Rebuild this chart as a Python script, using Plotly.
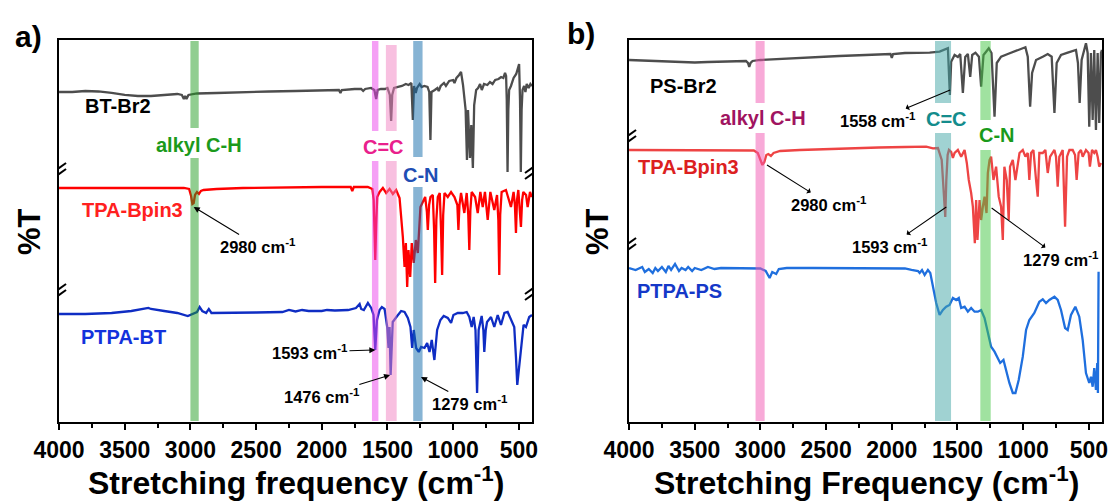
import plotly.graph_objects as go

# ---------------- Panel a: BT-Br2 / TPA-Bpin3 / PTPA-BT ----------------
# wavenumber (cm-1) and offset transmittance (a.u.)
wn_bt_br2 = [4000, 3900, 3800, 3700, 3600, 3500, 3400, 3300, 3200, 3100, 3065, 3050, 3040, 3030, 3015,
             2950, 2800, 2600, 2400, 2200, 2000, 1870, 1858, 1848, 1750, 1700, 1685, 1670, 1625, 1600,
             1586, 1575, 1550, 1520, 1500, 1482, 1472, 1464, 1450, 1420, 1390, 1360, 1340, 1318, 1307,
             1298, 1285, 1275, 1255, 1240, 1220, 1195, 1182, 1173, 1165, 1140, 1120, 1110, 1095, 1070,
             1055, 1030, 1000, 990, 975, 955, 940, 925, 905, 895, 887, 872, 862, 850, 840, 825, 810, 795,
             782, 765, 740, 720, 700, 680, 655, 635, 618, 605, 597, 592, 586, 580, 574, 560, 540, 520,
             505, 498, 491, 485, 479, 472, 460, 450, 440, 425, 412, 400]
t_bt_br2 = [330, 330, 331, 330.5, 329, 327, 326, 326, 327, 328, 327, 323, 326, 323, 327,
            328.5, 329, 330, 330.5, 331, 331.5, 332, 329, 332, 333, 333, 331, 333, 334, 332,
            323, 332, 333, 333, 334, 327, 301, 327, 334, 335, 336, 338, 337, 339, 302,
            336, 329, 334, 338, 335, 336, 335, 330, 282, 330, 332, 334, 331, 336, 339,
            336, 341, 342, 339, 344, 347, 350, 337, 312, 262, 312, 264, 297, 254, 317, 332, 334, 338,
            332, 338, 337, 340, 338, 342, 343, 345, 344, 349, 346, 322, 250, 312, 332, 336, 344, 348,
            356, 358, 322, 250, 312, 332, 336, 330, 338, 334, 338, 336]

wn_tpa_a = [4000, 3800, 3600, 3400, 3200, 3050, 3010, 2995, 2985, 2975, 2965, 2950, 2935, 2920, 2900,
            2800, 2600, 2400, 2200, 2000, 1850, 1780, 1768, 1756, 1700, 1650, 1615, 1605, 1598, 1593,
            1586, 1578, 1560, 1535, 1510, 1484, 1459, 1434, 1408, 1395, 1383, 1370, 1360, 1350, 1340,
            1327, 1315, 1300, 1284, 1269, 1249, 1231, 1213, 1200, 1193, 1183, 1173, 1155, 1145, 1137,
            1128, 1117, 1102, 1092, 1084, 1076, 1066, 1041, 1016, 990, 968, 960, 952, 940, 915, 897,
            885, 877, 869, 859, 833, 813, 793, 775, 758, 737, 717, 687, 666, 656, 649, 642, 631, 598,
            560, 540, 530, 522, 514, 504, 494, 484, 475, 466, 445, 433, 415, 400]
t_tpa_a = [234, 234, 233.5, 234, 234, 234, 233, 226, 218, 219, 227, 230, 228, 231, 232,
           233, 234, 234.5, 235, 235, 235, 235, 231, 235, 235, 235, 233, 222, 187, 162,
           197, 225, 230, 234, 229, 233, 228, 232, 224, 207, 185, 155, 179, 135, 172,
           145, 179, 159, 182, 169, 215, 220, 225, 210, 192, 217, 225, 227, 192, 139,
           202, 225, 229, 192, 147, 207, 229, 225, 230, 225, 217, 192, 217, 229, 209, 229,
           207, 172, 212, 230, 225, 209, 230, 215, 230, 202, 230, 212, 227, 202, 147, 207, 230, 232,
           215, 230, 217, 189, 222, 232, 217, 195, 222, 230, 227, 215, 230, 225]

wn_ptpa_bt = [4000, 3800, 3600, 3450, 3320, 3300, 3200, 3100, 3020, 2980, 2950, 2930, 2910, 2880, 2860,
              2840, 2700, 2500, 2300, 2250, 2200, 2150, 2100, 2000, 1960, 1900, 1800, 1760, 1740, 1712,
              1700, 1680, 1649, 1624, 1606, 1593, 1580, 1560, 1543, 1522, 1502, 1492, 1484, 1476, 1460,
              1426, 1396, 1370, 1345, 1325, 1312, 1300, 1282, 1262, 1244, 1218, 1198, 1180, 1163, 1143,
              1122, 1097, 1072, 1041, 1016, 998, 965, 927, 897, 877, 859, 844, 830, 818, 806, 783, 770,
              763, 752, 742, 712, 687, 661, 636, 610, 585, 560, 535, 522, 512, 500, 479, 464, 446, 421, 400]
t_ptpa_bt = [108, 108, 109, 111, 114, 113, 111, 109, 106, 108, 110, 115, 111, 109, 113,
             109, 109, 109.5, 110, 112, 110.5, 112, 111, 111, 112, 111.5, 112, 113, 114, 118,
             113, 112, 119, 114, 107, 72, 102, 112, 115, 113, 95, 74, 95, 47, 100,
             106, 111, 110, 104, 95, 74, 92, 74, 70, 75, 74, 79, 70, 82, 62,
             92, 102, 106, 104, 99, 107, 109, 109, 110, 105, 95, 105, 92, 29, 92, 106, 92,
             70, 92, 100, 105, 95, 107, 97, 109, 110, 102, 95, 65, 37, 52, 82, 97, 95, 105, 107]

# ---------------- Panel b: PS-Br2 / TPA-Bpin3 / PTPA-PS ----------------
wn_ps_br2 = [4000, 3900, 3800, 3700, 3600, 3500, 3400, 3300, 3200, 3110, 3095, 3085, 3075, 3060, 3000,
             2800, 2600, 2400, 2200, 2030, 2010, 2000, 1990, 1900, 1788, 1712, 1636, 1598, 1573, 1558,
             1548, 1522, 1497, 1479, 1459, 1441, 1421, 1403, 1388, 1363, 1337, 1320, 1302, 1282, 1262,
             1241, 1218, 1201, 1168, 1117, 1066, 1016, 983, 965, 947, 932, 902, 851, 813, 783, 762,
             745, 712, 661, 618, 598, 583, 570, 555, 534, 522, 509, 497, 484, 471, 459, 446, 433,
             421, 408, 400]
t_ps_br2 = [362, 361.5, 361, 360.5, 360, 359.5, 360, 360.5, 361, 361, 359, 355, 359, 361, 362,
            363.5, 364.5, 366, 367, 368, 368, 364, 368, 369, 369, 369.3, 370.3, 372, 373.7, 327,
            360.3, 367, 365, 368, 329, 365, 368, 345, 367, 369.3, 365.3, 335.3, 367, 370.3, 373.7,
            369, 305.3, 359, 365.3, 368, 370.3, 372.7, 374.7, 365.3, 315.3, 349, 362, 365.3, 368, 365.3, 309,
            359, 367, 369.3, 371.3, 372, 359, 319, 362, 373.7, 378.7, 369, 295.3, 369, 302, 372, 292, 369,
            299, 369, 372]

wn_tpa_b = [4000, 3800, 3600, 3400, 3200, 3100, 3050, 3020, 3000, 2985, 2970, 2955, 2940, 2920, 2900,
            2850, 2700, 2500, 2300, 2100, 1900, 1788, 1738, 1687, 1649, 1620, 1607, 1593, 1585, 1575,
            1565, 1548, 1535, 1522, 1497, 1472, 1446, 1429, 1414, 1396, 1383, 1368, 1358, 1348, 1332,
            1320, 1307, 1294, 1279, 1269, 1256, 1244, 1226, 1206, 1186, 1168, 1155, 1143, 1125, 1110,
            1100, 1079, 1059, 1041, 1028, 1003, 983, 965, 953, 940, 922, 902, 889, 877, 851, 831, 813,
            795, 775, 762, 750, 737, 725, 699, 681, 666, 648, 623, 605, 593, 578, 560, 547, 535, 522,
            502, 492, 476, 459, 446, 433, 421, 408]
t_tpa_b = [272, 272, 272, 271.5, 271.5, 272, 271.5, 269, 262, 257, 260, 267, 268, 266, 269,
           271, 272, 273, 274, 274.5, 275, 274.7, 275.3, 273.7, 274, 262, 232, 205, 242, 267,
           272, 270, 264, 269, 272, 265.3, 272, 259, 242, 229, 215.3, 178.7, 222, 182, 222,
           202, 215.3, 225.3, 209, 249, 262, 265.3, 242, 255.3, 225.3, 215.3, 182, 255.3, 242, 202,
           255.3, 262, 242, 255.3, 269, 272, 265.3, 269, 242, 269, 272, 242, 225.3, 269, 269, 272, 249,
           265.3, 269, 272, 265.3, 235.3, 265.3, 272, 195.3, 265.3, 272, 272, 267, 242, 269, 272, 265.3, 269, 272,
           269, 255.3, 272, 269, 272, 265.3, 255.3, 259]

wn_ptpa_ps = [4000, 3950, 3900, 3880, 3850, 3820, 3800, 3780, 3750, 3720, 3700, 3680, 3650, 3620, 3600,
              3570, 3550, 3520, 3500, 3450, 3400, 3350, 3300, 3200, 3100, 3000, 2960, 2930, 2910, 2880,
              2860, 2800, 2600, 2400, 2200, 2000, 1900, 1850, 1800, 1788, 1770, 1750, 1725, 1707, 1687,
              1662, 1636, 1611, 1586, 1560, 1535, 1510, 1490, 1472, 1446, 1421, 1396, 1370, 1345, 1320,
              1294, 1269, 1244, 1218, 1193, 1175, 1150, 1130, 1105, 1079, 1059, 1034, 1003, 978, 953,
              915, 877, 851, 826, 801, 762, 737, 712, 681, 661, 636, 603, 573, 547, 522, 497, 484, 471,
              459, 446, 436, 431, 426]
t_ptpa_ps = [154, 152, 155, 150, 153, 149, 154, 151, 155, 150, 156, 152, 158, 151, 154,
             152, 155, 151, 154, 152, 155, 153, 154, 154, 154, 153.5, 151, 144, 150, 148,
             153, 154, 154, 154, 154, 154, 153.5, 152, 151, 149, 152, 147, 152, 149, 135.3,
             119, 107, 112, 115.3, 117, 124, 122, 124, 114, 115.3, 110.3, 114, 110.3, 110.3, 112,
             104, 89, 75.3, 70.3, 64, 59, 62, 52, 39, 29, 29, 42, 65.3, 92, 102,
             109, 120.3, 122.7, 119, 122, 125.3, 122, 112, 94, 92, 107, 115.3, 105.3, 82, 49, 39, 45.3, 35.3,
             54, 32, 59, 29, 150.3]

# x-axis ticks (cm-1)
tick_vals = [4000, 3500, 3000, 2500, 2000, 1500, 1000, 500]
tick_text = ["4000", "3500", "3000", "2500", "2000", "1500", "1000", "500"]

FONT = "Liberation Sans, Arial, sans-serif"
T_MAX = 382

fig = go.Figure()

traces = [
    (wn_bt_br2, t_bt_br2, "#4d4d4d", "x", "y", "BT-Br2"),
    (wn_tpa_a, t_tpa_a, "#ff0000", "x", "y", "TPA-Bpin3"),
    (wn_ptpa_bt, t_ptpa_bt, "#0f2dc3", "x", "y", "PTPA-BT"),
    (wn_ps_br2, t_ps_br2, "#4d4d4d", "x2", "y2", "PS-Br2"),
    (wn_tpa_b, t_tpa_b, "#ee4444", "x2", "y2", "TPA-Bpin3"),
    (wn_ptpa_ps, t_ptpa_ps, "#1f6fde", "x2", "y2", "PTPA-PS"),
]
for wx, ty, col, xa, ya, nm in traces:
    fig.add_trace(go.Scatter(x=wx, y=ty, mode="lines", name=nm, xaxis=xa, yaxis=ya,
                             line=dict(color=col, width=2.3), showlegend=False, hoverinfo="skip"))

# highlighted absorption bands: (panel, lo, hi, colour, upper-piece bottom, lower-piece top, top)
bands = [
    ("a", 2937, 3000, "rgb(33,157,33)", 294, 264, T_MAX),
    ("a", 1569, 1618, "rgb(235,65,235)", 291, 261, T_MAX),
    ("a", 1430, 1512, "rgb(241,129,193)", 291, 261, 378),
    ("a", 1233, 1304, "rgb(15,105,169)", 265, 235, T_MAX),
    ("b", 2968, 3037, "rgb(241,85,177)", 319, 289, T_MAX),
    ("b", 1549, 1671, "rgb(65,165,165)", 319, 289, T_MAX),
    ("b", 1247, 1326, "rgb(65,197,65)", 302, 272, T_MAX),
]
shapes = []
for pnl, lo, hi, col, gap_top, gap_bot, top in bands:
    xr, yr = ("x", "y") if pnl == "a" else ("x2", "y2")
    for y0, y1 in ((gap_top, top - 1), (1, gap_bot)):
        shapes.append(dict(type="rect", xref=xr, yref=yr, x0=lo, x1=hi, y0=y0, y1=y1,
                           fillcolor=col, opacity=0.5, line=dict(width=0), layer="above"))

# axis break marks "//"
breaks = [("x", "y", 4000, 251), ("x", "y", 4000, 130), ("x", "y", 400, 251), ("x", "y", 400, 130),
          ("x2", "y2", 4000, 284), ("x2", "y2", 4000, 176)]
for xr, yr, xa, ya in breaks:
    shapes.append(dict(type="rect", xref=xr, yref=yr, xsizemode="pixel", ysizemode="pixel",
                       xanchor=xa, yanchor=ya, x0=-4, x1=4, y0=-3, y1=3,
                       fillcolor="white", line=dict(width=0), layer="above"))
    for dy in (-3, 3):
        shapes.append(dict(type="line", xref=xr, yref=yr, xsizemode="pixel", ysizemode="pixel",
                           xanchor=xa, yanchor=ya, x0=-7, x1=7, y0=dy - 5, y1=dy + 5,
                           line=dict(color="black", width=2), layer="above"))

annotations = []


def label(txt, x, y, color, size=20, xr="x", yr="y"):
    annotations.append(dict(text=txt, x=x, y=y, xref=xr, yref=yr, showarrow=False,
                            font=dict(family=FONT, size=size, color=color, weight="bold"),
                            xanchor="center", yanchor="middle"))


def peak_label(txt, tx, ty, px, py, head_at_peak, xr="x", yr="y"):
    """Wavenumber label at (tx, ty) with an arrow joining it to the peak at (px, py)."""
    annotations.append(dict(text=txt, x=px, y=py, ax=tx, ay=ty, xref=xr, yref=yr,
                            axref=xr, ayref=yr, showarrow=True, arrowhead=2, arrowsize=1.1,
                            arrowwidth=1.1, arrowcolor="black", standoff=0, startstandoff=0,
                            arrowside="end" if head_at_peak else "start",
                            font=dict(family=FONT, size=16.5, color="black", weight="bold")))


CM = " cm<sup>-1</sup>"
# panel a
label("BT-Br2", 3551, 316, "black")
label("alkyl C-H", 2934, 277, "#1b9a1b")
label("C=C", 1534, 275, "#e9208c")
label("C-N", 1245, 247, "#1f4eb4")
label("TPA-Bpin3", 3444, 212, "#ff2020")
label("PTPA-BT", 3513, 85, "#1432dc")
peak_label("2980" + CM, 2485, 176, 2975, 215, True)
peak_label("1593" + CM, 2090, 70, 1592, 72, True)
peak_label("1476" + CM, 1998, 26, 1480, 47, True)
peak_label("1279" + CM, 872, 19, 1245, 45, True)
# panel b
label("PS-Br2", 3589, 336, "black", xr="x2", yr="y2")
label("alkyl C-H", 2980, 304, "#a01460", xr="x2", yr="y2")
label("C=C", 1580, 303, "#148c8c", xr="x2", yr="y2")
label("C-N", 1199, 287, "#1a9a1a", xr="x2", yr="y2")
label("TPA-Bpin3", 3551, 255, "#dc2020", xr="x2", yr="y2")
label("PTPA-PS", 3619, 131, "#1538c8", xr="x2", yr="y2")
peak_label("1558" + CM, 2105, 302, 1556, 332, False, "x2", "y2")
peak_label("2980" + CM, 2478, 218, 2950, 257, False, "x2", "y2")
peak_label("1593" + CM, 2014, 176, 1585, 215, False, "x2", "y2")
peak_label("1279" + CM, 712, 163, 1240, 214, False, "x2", "y2")

# panel letters, axis titles
for txt, x, y in (("a)", 0.026, 0.927), ("b)", 0.5225, 0.934)):
    annotations.append(dict(text=txt, x=x, y=y, xref="paper", yref="paper", showarrow=False,
                            font=dict(family=FONT, size=30, color="black", weight="bold"),
                            xanchor="center", yanchor="middle"))
for txt, x in (("Stretching frequency (cm<sup>-1</sup>)", 0.2662),
               ("Stretching Frequency (cm<sup>-1</sup>)", 0.7795)):
    annotations.append(dict(text=txt, x=x, y=0.04, xref="paper", yref="paper", showarrow=False,
                            font=dict(family=FONT, size=32, color="black", weight="bold"),
                            xanchor="center", yanchor="middle"))
for x in (0.027, 0.5378):
    annotations.append(dict(text="%T", x=x, y=0.537, xref="paper", yref="paper", showarrow=False,
                            textangle=-90,
                            font=dict(family=FONT, size=31, color="black", weight="bold"),
                            xanchor="center", yanchor="middle"))

xaxis_style = dict(range=[4000, 400], tickmode="array", tickvals=tick_vals, ticktext=tick_text,
                   ticks="outside", ticklen=6, tickwidth=2, tickcolor="black",
                   minor=dict(ticks="outside", ticklen=4, tickwidth=1.5, tickcolor="black",
                              tickmode="linear", tick0=250, dtick=500),
                   showline=True, linewidth=2, linecolor="black", mirror=True,
                   showgrid=False, zeroline=False, automargin=False,
                   tickfont=dict(family=FONT, size=23, color="black", weight="bold"))
yaxis_style = dict(range=[0, T_MAX], showline=True, linewidth=2, linecolor="black", mirror=True,
                   ticks="", showticklabels=False, showgrid=False, zeroline=False, automargin=False)

y_dom = [0.1577, 0.9202]
fig.update_layout(
    width=1112, height=501,
    margin=dict(l=0, r=0, t=0, b=0, pad=0, autoexpand=False),
    paper_bgcolor="white", plot_bgcolor="white",
    xaxis=dict(domain=[0.0531, 0.4784], anchor="y", **xaxis_style),
    yaxis=dict(domain=y_dom, anchor="x", **yaxis_style),
    xaxis2=dict(domain=[0.5657, 0.9910], anchor="y2", **xaxis_style),
    yaxis2=dict(domain=y_dom, anchor="x2", **yaxis_style),
    shapes=shapes,
    annotations=annotations,
)

fig.write_html("out.html")
